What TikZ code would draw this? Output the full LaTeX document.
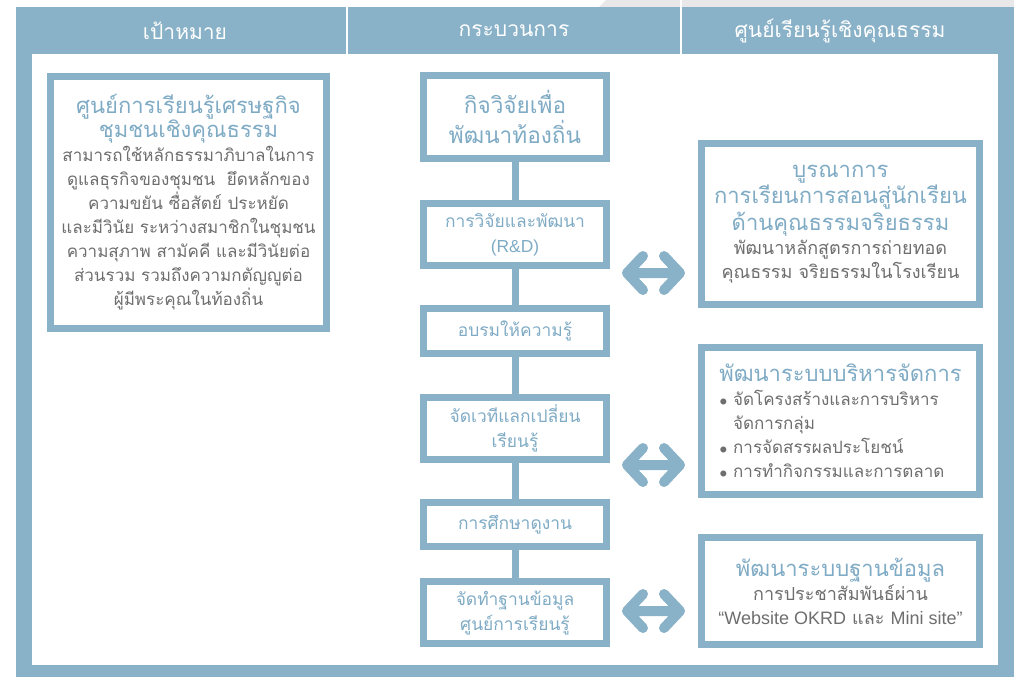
\documentclass[tikz,border=0pt]{standalone}
\usepackage{fontspec}
\setmainfont[Script=Thai]{Loma}
\newfontfamily\latinfont{Liberation Sans}
\usetikzlibrary{positioning}

\definecolor{frameblue}{HTML}{89B2C8}
\definecolor{titleblue}{HTML}{7FABC5}
\definecolor{bodygray}{HTML}{6E6E6E}
\definecolor{topgray}{HTML}{E8E8E8}

\newcommand{\boxtitle}[1]{{\color{titleblue}\fontsize{11}{13.5}\selectfont #1}}
\newcommand{\bulletmark}{{\scriptsize$\bullet$}~}

\begin{document}
\begin{tikzpicture}[
	x=0.5pt, y=-0.5pt,
	box/.style = {draw=frameblue, line width=3.5pt, fill=white, inner sep=0pt, align=center,
		text=bodygray, font=\fontsize{9}{12}\selectfont},
	stepbox/.style = {box, minimum width=91.5pt, text=titleblue, font=\fontsize{8.7}{12.5}\selectfont},
	infobox/.style = {box, minimum width=139pt},
	head/.style = {text=white, font=\fontsize{10.5}{13}\selectfont},
	link/.style = {draw=frameblue, line width=3.5pt},
	both ways/.style = {draw=frameblue, line width=5pt, line cap=round, line join=round,
		to path={-- (\tikztotarget)
			(\tikztostart) ++(16,-17) -- (\tikztostart) -- ++(16,17)
			(\tikztotarget) ++(-16,-17) -- (\tikztotarget) -- ++(-16,17)}}
	]
	\useasboundingbox (0,0) rectangle (1014,677);

	% frame and header
	\fill[topgray] (606,0) -- (1014,0) -- (1014,7) -- (599,7) -- cycle;
	\fill[frameblue] (16,7) rectangle (1014,677);
	\fill[white] (32,54) rectangle (998,665);
	\draw[white, line width=1pt] (347,0) -- (347,54);
	\draw[white, line width=1pt] (681,0) -- (681,54);

	\node[head] (hgoal) at (185,31) {เป้าหมาย};
	\node[head] (hprocess) at (514,31) {กระบวนการ};
	\node[head] (hcentre) at (840,31) {ศูนย์เรียนรู้เชิงคุณธรรม};

	\coordinate (@goal) at (188.5,202.5);
	\coordinate (@s1) at (515,117);
	\coordinate (@s2) at (515,234.5);
	\coordinate (@s3) at (515,331);
	\coordinate (@s4) at (515,428.5);
	\coordinate (@s5) at (515,524.5);
	\coordinate (@s6) at (515,612.5);
	\coordinate (@r1) at (840.5,224);
	\coordinate (@r2) at (840.5,421);
	\coordinate (@r3) at (840.5,591);

	\node[box, minimum width=138pt, minimum height=126pt, font=\fontsize{8.5}{12}\selectfont] (goal) at (@goal) {%
		\boxtitle{ศูนย์การเรียนรู้เศรษฐกิจ}\\
		\boxtitle{ชุมชนเชิงคุณธรรม}\\
		สามารถใช้หลักธรรมาภิบาลในการ\\
		ดูแลธุรกิจของชุมชน~~ยึดหลักของ\\
		ความขยัน ซื่อสัตย์ ประหยัด\\
		และมีวินัย ระหว่างสมาชิกในชุมชน\\
		ความสุภาพ สามัคคี และมีวินัยต่อ\\
		ส่วนรวม รวมถึงความกตัญญูต่อ\\
		ผู้มีพระคุณในท้องถิ่น};

	\node[stepbox, minimum height=41.5pt, font=\fontsize{11.3}{15}\selectfont] (s1) at (@s1) {กิจวิจัยเพื่อ\\พัฒนาท้องถิ่น};
	\node[stepbox, minimum height=31pt] (s2) at (@s2) {การวิจัยและพัฒนา\\{\latinfont (R\&D)}};
	\node[stepbox, minimum height=22.5pt] (s3) at (@s3) {อบรมให้ความรู้};
	\node[stepbox, minimum height=31pt] (s4) at (@s4) {จัดเวทีแลกเปลี่ยน\\เรียนรู้};
	\node[stepbox, minimum height=22pt] (s5) at (@s5) {การศึกษาดูงาน};
	\node[stepbox, minimum height=31pt] (s6) at (@s6) {จัดทำฐานข้อมูล\\ศูนย์การเรียนรู้};

	\draw[link] (s1) -- (s2);
	\draw[link] (s2) -- (s3);
	\draw[link] (s3) -- (s4);
	\draw[link] (s4) -- (s5);
	\draw[link] (s5) -- (s6);

	\node[infobox, minimum height=80.5pt] (r1) at (@r1) {%
		\boxtitle{บูรณาการ}\\
		\boxtitle{การเรียนการสอนสู่นักเรียน}\\
		\boxtitle{ด้านคุณธรรมจริยธรรม}\\
		พัฒนาหลักสูตรการถ่ายทอด\\
		คุณธรรม จริยธรรมในโรงเรียน};
	\node[infobox, minimum height=73.5pt, align=left, font=\fontsize{8.5}{12}\selectfont] (r2) at (@r2) {%
		\boxtitle{พัฒนาระบบบริหารจัดการ}\\
		\bulletmark จัดโครงสร้างและการบริหาร\\
		\phantom{\bulletmark}จัดการกลุ่ม\\
		\bulletmark การจัดสรรผลประโยชน์\\
		\bulletmark การทำกิจกรรมและการตลาด};
	\node[infobox, minimum height=53.5pt] (r3) at (@r3) {%
		\boxtitle{พัฒนาระบบฐานข้อมูล}\\
		การประชาสัมพันธ์ผ่าน\\
		{\latinfont “Website OKRD} และ {\latinfont Mini site”}};

	\coordinate (a1l) at (627,273);
	\coordinate (a1r) at (680,273);
	\coordinate (a2l) at (627,465);
	\coordinate (a2r) at (680,465);
	\coordinate (a3l) at (627,611);
	\coordinate (a3r) at (680,611);

	\draw[both ways] (a1l) to (a1r);
	\draw[both ways] (a2l) to (a2r);
	\draw[both ways] (a3l) to (a3r);

\end{tikzpicture}
\end{document}
